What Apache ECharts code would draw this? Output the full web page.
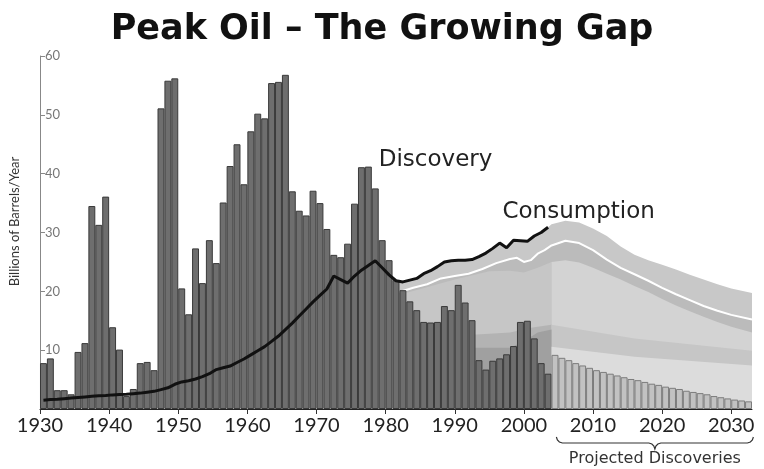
<!DOCTYPE html>
<html><head><meta charset="utf-8">
<script src="https://cdn.jsdelivr.net/npm/echarts@6/dist/echarts.min.js"></script>
<style>html,body{margin:0;padding:0;background:#fff}#c{width:764px;height:469px}</style>
</head><body><div id="c"></div>
<script>
// ---------- data ----------
const firstYear = 1930;
const discovery = [7.8, 8.6, 3.2, 3.2, 2.5, 9.7, 11.2, 34.5, 31.3, 36.1,
  13.9, 10.1, 2.2, 3.4, 7.8, 8.0, 6.6, 51.1, 55.8, 56.2,
  20.5, 16.1, 27.3, 21.4, 28.7, 24.8, 35.1, 41.3, 45.0, 38.2,
  47.2, 50.2, 49.4, 55.4, 55.6, 56.8, 37.0, 33.7, 32.9, 37.1,
  35.0, 30.6, 26.2, 25.8, 28.1, 34.9, 41.1, 41.2, 37.5, 28.7,
  25.3, 21.9, 20.2, 18.3, 16.8, 14.8, 14.7, 14.8, 17.5, 16.8,
  21.1, 18.1, 15.1, 8.3, 6.7, 8.2, 8.6, 9.3, 10.7, 14.8,
  15.0, 12.0, 7.8, 6.0];
const projectedFirstYear = 2004;
const projectedDiscovery = [9.2, 8.7, 8.3, 7.8, 7.4, 7.0, 6.6, 6.3, 6.0, 5.7,
  5.4, 5.1, 4.9, 4.6, 4.3, 4.1, 3.8, 3.6, 3.4, 3.1,
  2.9, 2.7, 2.5, 2.2, 2.0, 1.8, 1.6, 1.45, 1.3];
const consumption = [1.5, 1.6, 1.65, 1.75, 1.85, 1.95, 2.05, 2.15, 2.25, 2.3,
  2.4, 2.45, 2.5, 2.6, 2.7, 2.85, 3.0, 3.3, 3.6, 4.2,
  4.6, 4.8, 5.1, 5.5, 6.0, 6.7, 7.0, 7.3, 7.9, 8.5,
  9.2, 9.9, 10.6, 11.5, 12.4, 13.5, 14.6, 15.8, 17.0, 18.2,
  19.3, 20.4, 22.6, 22.0, 21.4, 22.6, 23.6, 24.4, 25.2, 24.0,
  22.8, 21.8, 21.6, 21.9, 22.2, 23.0, 23.5, 24.2, 25.0, 25.2,
  25.3, 25.3, 25.4, 25.9, 26.5, 27.3, 28.2, 27.4, 28.7, 28.6,
  28.5, 29.4, 30.0, 30.9];
const gapStartYear = 1981;

// projected consumption / gap bands (boundaries)
const gapTopYears = [2004, 2006, 2008, 2010, 2012, 2014, 2016, 2018, 2020, 2022, 2024, 2026, 2028, 2030, 2033];
const gapTop = [31.4, 32.0, 31.7, 30.7, 29.4, 27.6, 26.2, 25.3, 24.5, 23.7, 22.8, 22.0, 21.2, 20.5, 19.7];
const whiteYears = [1982, 1984, 1986, 1988, 1990, 1992, 1994, 1996, 1998, 1999, 2000, 2001, 2002, 2003, 2004, 2006, 2008, 2010, 2012, 2014, 2016, 2018, 2020, 2022, 2024, 2026, 2028, 2030, 2033];
const whiteLine = [19.9, 20.6, 21.2, 22.2, 22.6, 23.0, 23.8, 24.8, 25.5, 25.7, 25.0, 25.3, 26.4, 27.0, 27.8, 28.6, 28.2, 27.0, 25.4, 24.0, 22.9, 21.8, 20.6, 19.5, 18.5, 17.5, 16.7, 16.0, 15.2];
const midYears = [1982, 1990, 1995, 1998, 2000, 2002, 2004, 2006, 2008, 2010, 2012, 2014, 2016, 2018, 2020, 2022, 2024, 2026, 2028, 2030, 2033];
const midBand = [19.4, 22.0, 23.4, 23.5, 23.2, 24.0, 25.0, 25.3, 24.9, 24.0, 23.0, 22.0, 20.9, 19.9, 18.7, 17.6, 16.6, 15.7, 14.8, 14.0, 13.0];
const lowHistYears = [1992.5, 1995, 1998, 2001, 2004];
const lowHist = [12.6, 12.8, 13.0, 13.8, 14.3];
const darkHistYears = [1992.5, 1995, 1998, 2000, 2002, 2004];
const darkHist = [10.4, 10.4, 10.4, 11.5, 13.0, 13.5];
const lowProjYears = [2004, 2016, 2033];
const lowProj = [14.3, 12.0, 9.9];
const lowestProj = [10.6, 8.9, 7.4];

const xTickLabels = [1930, 1940, 1950, 1960, 1970, 1980, 1990, 2000, 2010, 2020, 2030];
const yTickLabels = [10, 20, 30, 40, 50, 60];

// ---------- build ----------
const X_MIN = 1930, X_MAX = 2033;
const G = {left: 38, right: 12, top: 56, bottom: 60};
const barW = (764 - G.left - G.right) / (X_MAX - X_MIN);

const pairs = (xs, ys) => xs.map((x, i) => [x, ys[i]]);
const barData = discovery.map((v, i) => [firstYear + i + 0.5, v])
  .concat(projectedDiscovery.map((v, i) => ({
    value: [projectedFirstYear + i + 0.5, v],
    itemStyle: {color: '#c2c2c2', borderColor: '#7c7c7c'}
  })));
const consData = consumption.map((v, i) => [firstYear + i + 0.5, v]);
const topBandData = consData.filter(p => p[0] > gapStartYear).concat(pairs(gapTopYears, gapTop));
const midPairs = pairs(midYears, midBand);

function area(name, data, color, z) {
  return {type: 'line', name, data, z, symbol: 'none', silent: true,
    lineStyle: {width: 0}, areaStyle: {color, opacity: 1}, animation: false};
}

const series = [
  area('gapTop', topBandData, '#c8c8c8', 1),
  area('regular', pairs(whiteYears, whiteLine), '#bbbbbb', 2),
  area('midHist', midPairs.filter(p => p[0] <= 2004), '#c6c6c6', 3),
  area('midProj', midPairs.filter(p => p[0] >= 2004), '#d3d3d3', 3),
  area('lowHist', pairs(lowHistYears, lowHist), '#b3b3b3', 4),
  area('lowProj', pairs(lowProjYears, lowProj), '#c6c6c6', 4),
  area('darkHist', pairs(darkHistYears, darkHist), '#a0a0a0', 5),
  area('lowestProj', pairs(lowProjYears, lowestProj), '#dcdcdc', 5),
  {type: 'line', name: 'white', data: pairs(whiteYears, whiteLine), z: 6, symbol: 'none',
    lineStyle: {color: '#ffffff', width: 2}, animation: false},
  {type: 'bar', name: 'Discovery', data: barData, z: 7, barWidth: barW,
    itemStyle: {color: '#6e6e6e', borderColor: '#3a3a3a', borderWidth: 1}, animation: false},
  {type: 'line', name: 'Consumption', data: consData, z: 8, symbol: 'none',
    lineStyle: {color: '#111', width: 3}, animation: false}
];

const chart = echarts.init(document.getElementById('c'));
chart.setOption({
  backgroundColor: '#fff',
  animation: false,
  title: {text: 'Peak Oil \u2013 The Growing Gap', left: 'center', top: 7,
    textStyle: {fontFamily: 'DejaVu Sans', fontWeight: 'bold', fontSize: 35, color: '#111'}},
  grid: G,
  xAxis: {type: 'value', min: X_MIN, max: X_MAX,
    axisLine: {lineStyle: {color: '#222', width: 1}},
    axisTick: {customValues: xTickLabels, length: 5, lineStyle: {color: '#333'}},
    axisLabel: {customValues: xTickLabels, margin: 7, fontFamily: 'Lato', fontSize: 20, color: '#222',
      formatter: v => String(v)},
    splitLine: {show: false}},
  yAxis: {type: 'value', min: 0, max: 60,
    name: 'Billions of Barrels/Year', nameLocation: 'middle', nameGap: 19, nameRotate: 90,
    nameTextStyle: {fontFamily: 'Lato', fontSize: 13, color: '#333', padding: [0, 0, 0, 22]},
    axisLine: {show: true, lineStyle: {color: '#888'}},
    axisTick: {customValues: yTickLabels, inside: true, length: 5, lineStyle: {color: '#888'}},
    axisLabel: {customValues: yTickLabels, inside: true, margin: 5, fontFamily: 'Lato', fontSize: 13, color: '#777',
      formatter: v => String(v)},
    splitLine: {show: false}},
  series
});

const px = (x, y) => chart.convertToPixel({xAxisIndex: 0, yAxisIndex: 0}, [x, y]);
const d = px(1979.0, 42.3), c = px(1996.9, 33.5);
const bl = px(2004.7, 0)[0], br = px(2033.2, 0)[0], bm = (bl + br) / 2;
const y0 = 437, r = 6;
const bracePts = [
  [bl, y0], [bl + 1, y0 + 3], [bl + 3, y0 + 5], [bl + r, y0 + r],
  [bm - r, y0 + r], [bm - 3, y0 + r + 1], [bm - 1, y0 + r + 3], [bm, y0 + 2 * r],
  [bm + 1, y0 + r + 3], [bm + 3, y0 + r + 1], [bm + r, y0 + r],
  [br - r, y0 + r], [br - 3, y0 + 5], [br - 1, y0 + 3], [br, y0]
];
chart.setOption({graphic: [
  {type: 'text', x: d[0], y: d[1], style: {text: 'Discovery', font: '23px "DejaVu Sans"', fill: '#222', textVerticalAlign: 'middle'}},
  {type: 'text', x: c[0], y: c[1], style: {text: 'Consumption', font: '23px "DejaVu Sans"', fill: '#222', textVerticalAlign: 'middle'}},
  {type: 'polyline', shape: {points: bracePts}, style: {fill: null, stroke: '#333', lineWidth: 1.2}},
  {type: 'text', x: bm, y: 459, style: {text: 'Projected Discoveries', font: '16px "DejaVu Sans"', fill: '#333', textAlign: 'center', textVerticalAlign: 'middle'}}
]});
</script></body></html>
